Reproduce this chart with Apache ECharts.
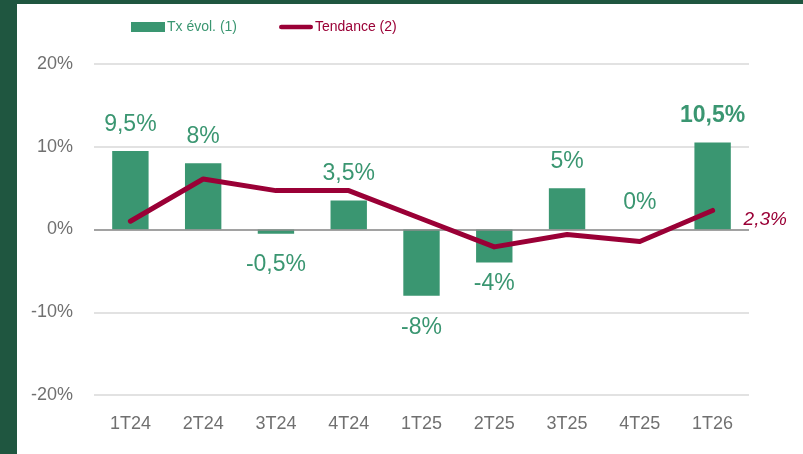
<!DOCTYPE html>
<html>
<head>
<meta charset="utf-8">
<script src="https://cdn.jsdelivr.net/npm/echarts@6/dist/echarts.min.js"></script>
<style>
  html, body { margin: 0; padding: 0; width: 803px; height: 454px; background: #1f5640; overflow: hidden; }
  #chart-container { position: absolute; left: 17px; top: 4px; width: 786px; height: 450px; background: #ffffff; }
</style>
</head>
<body>
<div id="chart-container"></div>
<script>
// data
var quarters = ['1T24', '2T24', '3T24', '4T24', '1T25', '2T25', '3T25', '4T25', '1T26'];
var txEvol = [9.5, 8, -0.5, 3.5, -8, -4, 5, 0, 10.5];
var tendance = [1.0, 6.1, 4.7, 4.7, 1.3, -2.1, -0.6, -1.45, 2.3];
var yTicks = [-20, -10, 0, 10, 20];

var GREEN = '#3a9671';
var RED = '#9a0036';
var FONT = '"Liberation Sans", sans-serif';

var dom = document.getElementById('chart-container');
var myChart = echarts.init(dom, null, { renderer: 'canvas' });

function fmt(v) {
  return String(v).replace('.', ',') + '%';
}

var barData = txEvol.map(function (v, i) {
  var last = i === txEvol.length - 1;
  var dist = v < 0 ? 20 : 15;
  if (v === -4) dist = 10;
  return {
    value: v,
    label: {
      show: true,
      position: v < 0 ? 'bottom' : 'top',
      distance: dist,
      fontWeight: last ? 'bold' : 'normal'
    }
  };
});

var lineData = tendance.map(function (v, i) {
  if (i !== tendance.length - 1) return v;
  return {
    value: v,
    label: {
      show: true,
      position: 'right',
      distance: 31,
      offset: [0, 9],
      color: RED,
      fontStyle: 'italic',
      fontSize: 19,
      fontFamily: FONT,
      formatter: function (p) { return fmt(p.value); }
    }
  };
});

// pill shaped icon for the trend line in the legend
var lineIcon = 'path://M2.5,0 L33.5,0 A2.5,2.5 0 0 1 33.5,5 L2.5,5 A2.5,2.5 0 0 1 2.5,0 Z';

var option = {
  animation: false,
  textStyle: { fontFamily: FONT },
  legend: {
    top: 11,
    left: 109,
    itemGap: 42,
    itemWidth: 34,
    itemHeight: 10,
    textStyle: { fontSize: 14, fontFamily: FONT, padding: [0, 0, 0, -3] },
    data: [
      { name: 'Tx évol. (1)', icon: 'rect', textStyle: { color: GREEN } },
      { name: 'Tendance (2)', icon: lineIcon, itemStyle: { color: RED }, textStyle: { color: RED } }
    ]
  },
  grid: { left: 77, top: 60, width: 655, height: 331 },
  xAxis: {
    type: 'category',
    data: quarters,
    axisLine: { show: false },
    axisTick: { show: false },
    axisLabel: { color: '#707070', fontSize: 18, margin: 20, fontFamily: FONT }
  },
  yAxis: {
    type: 'value',
    min: yTicks[0],
    max: yTicks[yTicks.length - 1],
    interval: 10,
    axisLine: { show: false },
    axisTick: { show: false },
    axisLabel: { color: '#707070', fontSize: 18, margin: 21, fontFamily: FONT, formatter: function (v) { return v + '%'; } },
    splitLine: { lineStyle: { color: '#d9d9d9', width: 1.5 } }
  },
  series: [
    {
      name: 'Tx évol. (1)',
      type: 'bar',
      barWidth: '50%',
      data: barData,
      itemStyle: { color: GREEN },
      label: {
        color: GREEN,
        fontSize: 23,
        fontFamily: FONT,
        formatter: function (p) { return fmt(p.value); }
      },
      markLine: {
        silent: true,
        symbol: 'none',
        label: { show: false },
        lineStyle: { color: '#8c8c8c', width: 1.5, type: 'solid' },
        data: [{ yAxis: 0 }]
      }
    },
    {
      name: 'Tendance (2)',
      type: 'line',
      data: lineData,
      showSymbol: true,
      symbol: 'circle',
      symbolSize: 0,
      lineStyle: { color: RED, width: 5, cap: 'round', join: 'round' },
      itemStyle: { color: RED },
      z: 5
    }
  ]
};

myChart.setOption(option);
window.addEventListener('resize', myChart.resize);
</script>
</body>
</html>
